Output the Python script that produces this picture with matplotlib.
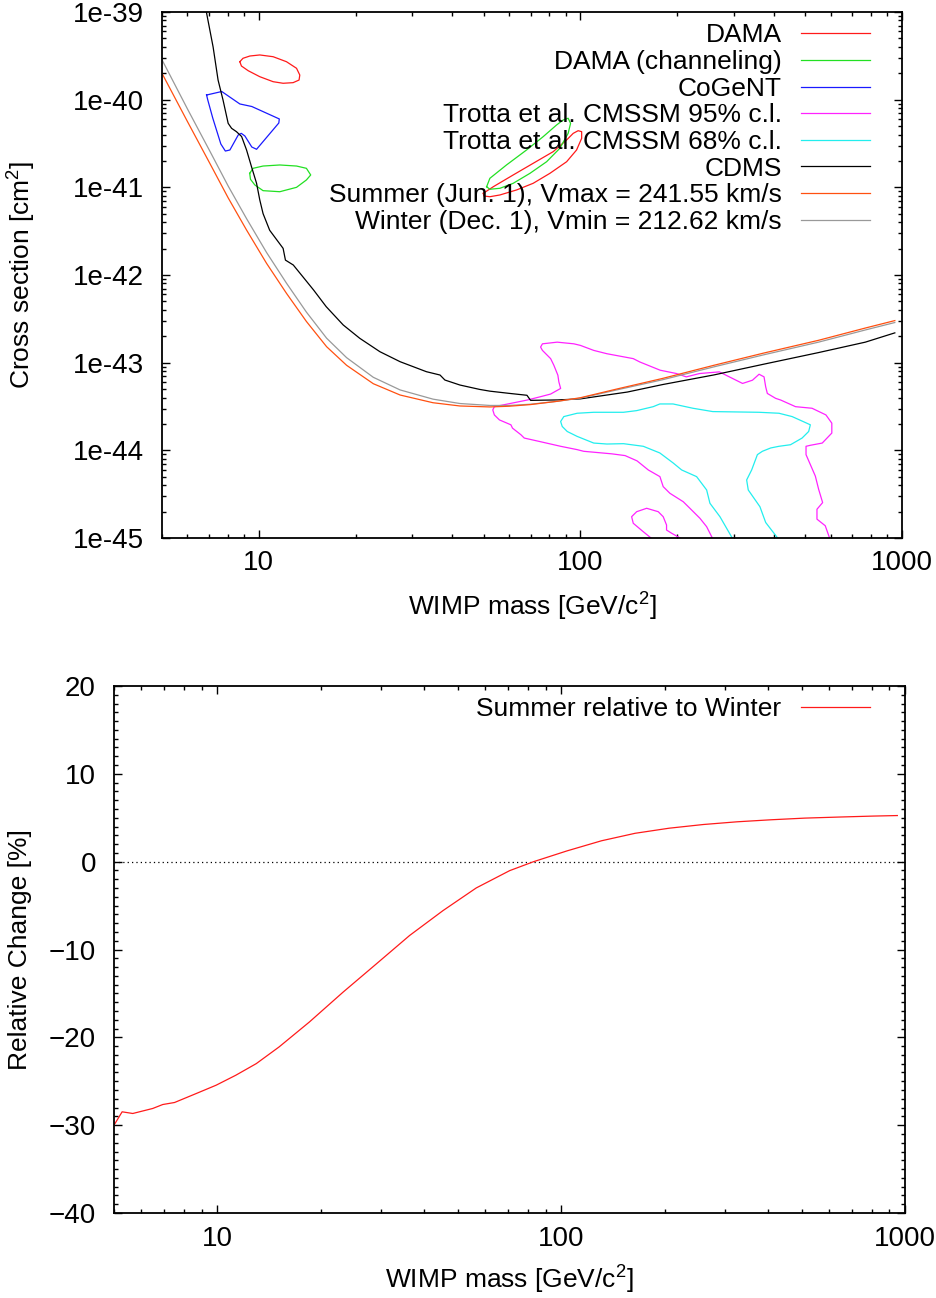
import numpy as np
import matplotlib.pyplot as plt
from matplotlib.ticker import FixedLocator, LogLocator, MultipleLocator, NullFormatter

plt.rcParams['font.family'] = ['Liberation Sans', 'DejaVu Sans']
plt.rcParams['mathtext.fontset'] = 'custom'
plt.rcParams['mathtext.rm'] = 'Liberation Sans'
plt.rcParams['mathtext.it'] = 'Liberation Sans:italic'

# ---- exclusion curves (mass in GeV, log10 of cross section in cm^2) ----
summer_mass = [5.0, 6.0, 7.05, 8.03, 9.16, 10.57, 12.19, 14.06, 16.25, 18.75, 22.7, 27.5,
               34.8, 42.2, 52.3, 60, 70, 85, 100, 130, 180, 260, 372, 550, 769, 950]
summer_logsig = [-39.70, -40.25, -40.73, -41.12, -41.487, -41.867, -42.209, -42.53, -42.818,
                 -43.03, -43.24, -43.369, -43.457, -43.494, -43.505, -43.497, -43.478, -43.44,
                 -43.40, -43.30, -43.18, -43.03, -42.89, -42.745, -42.605, -42.52]

winter_mass = summer_mass
winter_logsig = [-39.545, -40.106, -40.59, -40.985, -41.357, -41.743, -42.093, -42.423, -42.721,
                 -42.943, -43.167, -43.311, -43.416, -43.466, -43.488, -43.488, -43.474, -43.44,
                 -43.405, -43.31, -43.195, -43.048, -42.91, -42.766, -42.627, -42.542]

cdms_mass = [6.75, 6.87, 7.21, 7.47, 7.74, 8.03, 8.23, 8.52, 8.84, 9.16, 9.49, 9.84, 10.07,
             10.31, 10.81, 11.9, 12.1, 12.8, 13.7, 14.8, 16.2, 18.3, 20.6, 23.8, 27.5, 33.2,
             36.6, 37.9, 42.2, 48.6, 52.3, 60, 68.2, 70.0, 85, 100, 140, 180, 260, 372, 550,
             769, 950]
cdms_logsig = [-38.80, -39.00, -39.40, -39.776, -40.004, -40.27, -40.327, -40.365, -40.42,
               -40.574, -40.765, -40.954, -41.144, -41.30, -41.49, -41.696, -41.83, -41.886,
               -42.019, -42.171, -42.361, -42.57, -42.722, -42.875, -42.989, -43.103, -43.141,
               -43.198, -43.255, -43.305, -43.325, -43.35, -43.372, -43.43, -43.425, -43.413,
               -43.335, -43.25, -43.14, -43.017, -42.885, -42.766, -42.66]

# ---- signal regions ----
dama_lo_mass = [8.73, 8.93, 9.38, 10.07, 11.08, 12.19, 13.1, 13.41, 13.34, 12.78, 11.9, 11.08,
                10.07, 9.27, 8.83, 8.73]
dama_lo_logsig = [-39.567, -39.528, -39.502, -39.490, -39.51, -39.567, -39.642, -39.719,
                  -39.776, -39.806, -39.813, -39.795, -39.738, -39.670, -39.616, -39.567]

dama_hi_mass = [49.9, 53.6, 61.8, 71.3, 82.3, 90.6, 95.0, 98.4, 100.9, 100.9, 97.3, 90.6, 80.4,
                71.3, 63.3, 56.2, 52.3, 50.1, 49.9]
dama_hi_logsig = [-41.068, -40.993, -40.859, -40.726, -40.593, -40.460, -40.384, -40.354,
                  -40.365, -40.441, -40.574, -40.708, -40.840, -40.954, -41.030, -41.087,
                  -41.107, -41.099, -41.068]

chan_lo_mass = [9.37, 9.60, 10.31, 11.62, 13.1, 14.06, 14.5, 14.06, 13.1, 11.62, 10.31, 9.72,
                9.42, 9.37]
chan_lo_logsig = [-40.840, -40.783, -40.757, -40.745, -40.757, -40.783, -40.859, -40.916,
                  -41.0, -41.05, -41.038, -40.973, -40.908, -40.840]

chan_hi_mass = [51.1, 52.3, 58.9, 68.0, 76.6, 84.3, 88.4, 91.6, 93.2, 91.6, 86.3, 78.5, 69.7,
                61.8, 56.2, 52.3, 51.1]
chan_hi_logsig = [-40.993, -40.897, -40.745, -40.574, -40.422, -40.289, -40.232, -40.212,
                  -40.270, -40.384, -40.555, -40.708, -40.840, -40.954, -41.011, -41.022,
                  -40.993]

cogent_mass = [6.88, 7.67, 8.73, 9.51, 11.58, 11.54, 9.84, 9.51, 9.05, 8.82, 8.63, 8.13, 7.87,
               7.62, 7.19, 6.94, 6.88]
cogent_logsig = [-39.947, -39.907, -40.049, -40.078, -40.220, -40.266, -40.566, -40.540,
                 -40.414, -40.384, -40.403, -40.574, -40.586, -40.506, -40.209, -40.004,
                 -39.947]

cmssm95_mass = [258.8, 246.9, 235.3, 219, 208.8, 189.8, 180.9, 176.7, 162.6, 150, 137.7, 125.2,
                102.4, 97.7, 86.8, 74.4, 66.9, 65.3, 61.5, 60.8, 56.0, 54.0, 53.4, 54.0, 60.8,
                64.5, 68.4, 75.2, 80.8, 86.8, 85.7, 85.1, 82.7, 80.8, 76.2, 75.2, 76.2, 84.7,
                95.4, 100, 110, 120.9, 146, 153, 177, 199, 213.4, 234.6, 270.4, 283.6, 319.3,
                342.8, 359.4, 372.4, 376.8, 381.3, 404.6, 419.4, 466.6, 525.1, 580, 605,
                605, 565, 518, 503, 503, 537.7, 550.6, 566.5, 544.0, 544.0, 577.2, 598]
cmssm95_logsig = [-45.02, -44.871, -44.775, -44.661, -44.586, -44.49, -44.414, -44.30, -44.224,
                  -44.12, -44.06, -44.04, -44.011, -43.992, -43.954, -43.898, -43.860, -43.822,
                  -43.747, -43.709, -43.653, -43.596, -43.539, -43.502, -43.464, -43.445,
                  -43.426, -43.388, -43.358, -43.294, -43.219, -43.143, -43.030, -42.954,
                  -42.860, -42.822, -42.785, -42.766, -42.785, -42.803, -42.860, -42.898,
                  -42.954, -42.992, -43.086, -43.124, -43.162, -43.124, -43.105, -43.143,
                  -43.237, -43.200, -43.132, -43.162, -43.275, -43.351, -43.407, -43.426,
                  -43.502, -43.520, -43.596, -43.690, -43.803, -43.917, -43.943, -43.954,
                  -44.049, -44.294, -44.445, -44.596, -44.672, -44.785, -44.860, -45.02]

cmssm95_blob_mass = [168.4, 156.8, 146, 144.3, 149.6, 160.7, 174.6, 180.9, 185.3, 185.3, 192.2,
                     208.8]
cmssm95_blob_logsig = [-45.02, -44.928, -44.832, -44.757, -44.700, -44.661, -44.700, -44.757,
                       -44.852, -44.909, -44.946, -45.02]

cmssm68_mass = [298.7, 271.6, 252.8, 246.9, 229.8, 206.5, 194.1, 176.6, 156.9, 136.1, 120.9, 110,
                97.7, 91.0, 87.8, 86.8, 88.8, 97.7, 110, 136.1, 149.6, 168.4, 176.6, 194.1,
                223.8, 257.9, 359.4, 414.4, 455.4, 500.6, 518.8, 512.6, 489, 450.1, 414.4,
                390.6, 368, 355.1, 340.8, 328.8, 332.6, 361.6, 376.8, 414.4]
cmssm68_logsig = [-45.02, -44.757, -44.604, -44.452, -44.30, -44.224, -44.143, -44.030, -43.954,
                  -43.924, -43.928, -43.917, -43.841, -43.785, -43.728, -43.671, -43.615,
                  -43.577, -43.566, -43.566, -43.547, -43.502, -43.471, -43.471, -43.520,
                  -43.558, -43.566, -43.577, -43.615, -43.683, -43.709, -43.785, -43.860,
                  -43.936, -43.954, -43.973, -44.011, -44.049, -44.224, -44.338, -44.452,
                  -44.643, -44.823, -45.02]

# ---- relative change, summer vs winter (%) ----
rel_mass = [5.0, 5.28, 5.67, 6.48, 6.93, 7.50, 8.67, 9.91, 11.3, 12.97, 15.1, 18.5, 23.2, 29.0,
            36.2, 45.3, 56.6, 70.8, 83.1, 104, 131, 164, 206, 259, 325, 408, 512, 643, 807, 950]
rel_pct = [-30.0, -28.48, -28.67, -28.1, -27.65, -27.42, -26.4, -25.45, -24.32, -22.99, -21.1,
           -18.26, -14.85, -11.63, -8.41, -5.57, -2.99, -1.02, 0.0, 1.23, 2.38, 3.23, 3.81,
           4.23, 4.54, 4.77, 4.96, 5.08, 5.19, 5.25]

ytick_exp = [-45, -44, -43, -42, -41, -40, -39]
xtick_vals = [10, 100, 1000]

FS = 19
TS = 20
LW = 0.9


def sig(v):
    return 10.0 ** np.array(v)


def style_axes(ax):
    for s in ax.spines.values():
        s.set_linewidth(1.3)
    ax.tick_params(which='both', direction='in', top=True, right=True, labelsize=TS, width=1)
    ax.tick_params(which='major', length=6)
    ax.tick_params(which='minor', length=3)
    ax.tick_params(axis='y', pad=13)
    ax.tick_params(axis='x', pad=9)
    ax.set_xscale('log')
    ax.set_xlim(5, 1000)
    ax.xaxis.set_major_locator(FixedLocator(xtick_vals))
    ax.set_xticklabels([str(v) for v in xtick_vals])
    ax.xaxis.set_minor_locator(LogLocator(base=10, subs=np.arange(2, 10)))
    ax.xaxis.set_minor_formatter(NullFormatter())


legend_kw = dict(loc='upper right', markerfirst=False, frameon=False, fontsize=FS,
                 handlelength=2.6, handletextpad=0.75, labelspacing=0.1,
                 borderpad=0, borderaxespad=0)

fig = plt.figure(figsize=(9.36, 12.98), dpi=100)

# top panel
ax1 = fig.add_axes([162 / 936, 1 - 538 / 1298, 740 / 936, 526 / 1298])
style_axes(ax1)
ax1.set_yscale('log')
ax1.set_ylim(1e-45, 1e-39)

l_dama, = ax1.plot(dama_lo_mass, sig(dama_lo_logsig), color='#ff1a1a', lw=LW)
ax1.plot(dama_hi_mass, sig(dama_hi_logsig), color='#ff1a1a', lw=LW)
l_chan, = ax1.plot(chan_lo_mass, sig(chan_lo_logsig), color='#22e022', lw=LW)
ax1.plot(chan_hi_mass, sig(chan_hi_logsig), color='#22e022', lw=LW)
l_cog, = ax1.plot(cogent_mass, sig(cogent_logsig), color='#1a1aff', lw=LW)
l_95, = ax1.plot(cmssm95_mass, sig(cmssm95_logsig), color='#ff22ff', lw=LW)
ax1.plot(cmssm95_blob_mass, sig(cmssm95_blob_logsig), color='#ff22ff', lw=LW)
l_68, = ax1.plot(cmssm68_mass, sig(cmssm68_logsig), color='#22eeee', lw=LW)
l_cdms, = ax1.plot(cdms_mass, sig(cdms_logsig), color='black', lw=LW)
l_win, = ax1.plot(winter_mass, sig(winter_logsig), color='#999999', lw=LW)
l_sum, = ax1.plot(summer_mass, sig(summer_logsig), color='#ff5010', lw=LW)

ax1.yaxis.set_major_locator(FixedLocator([10.0 ** e for e in ytick_exp]))
ax1.set_yticklabels(['1e%d' % e for e in ytick_exp])
ax1.yaxis.set_minor_locator(LogLocator(base=10, subs=np.arange(2, 10), numticks=50))
ax1.yaxis.set_minor_formatter(NullFormatter())

ax1.set_xlabel('WIMP mass [GeV/c$^2$]', fontsize=FS, va='center')
ax1.xaxis.set_label_coords(0.5, -0.131)
ax1.set_ylabel('Cross section [cm$^2$]', fontsize=FS, va='center')
ax1.yaxis.set_label_coords(-0.189, 0.5)

ax1.legend([l_dama, l_chan, l_cog, l_95, l_68, l_cdms, l_sum, l_win],
           ['DAMA', 'DAMA (channeling)', 'CoGeNT', 'Trotta et al. CMSSM 95% c.l.',
            'Trotta et al. CMSSM 68% c.l.', 'CDMS', 'Summer (Jun. 1), Vmax = 241.55 km/s',
            'Winter (Dec. 1), Vmin = 212.62 km/s'],
           bbox_to_anchor=(1 - 32 / 740, 1 - 11.5 / 526), **legend_kw)

# bottom panel
ax2 = fig.add_axes([114 / 936, 1 - 1213 / 1298, 791 / 936, 527 / 1298])
style_axes(ax2)
ax2.set_ylim(-40, 20)
ax2.yaxis.set_major_locator(MultipleLocator(10))
ax2.yaxis.set_minor_locator(MultipleLocator(1))
ax2.axhline(0, color='black', lw=LW, ls=(0, (1, 2.5)))
ax2.plot(rel_mass, rel_pct, color='#ff1a1a', lw=LW, label='Summer relative to Winter')

ax2.set_xlabel('WIMP mass [GeV/c$^2$]', fontsize=FS, va='center')
ax2.xaxis.set_label_coords(0.5, -0.127)
ax2.set_ylabel('Relative Change [%]', fontsize=FS, va='center')
ax2.yaxis.set_label_coords(-0.119, 0.5)

ax2.legend(bbox_to_anchor=(1 - 35 / 791, 1 - 11 / 527), **legend_kw)

fig.savefig('out.png', dpi=100)
